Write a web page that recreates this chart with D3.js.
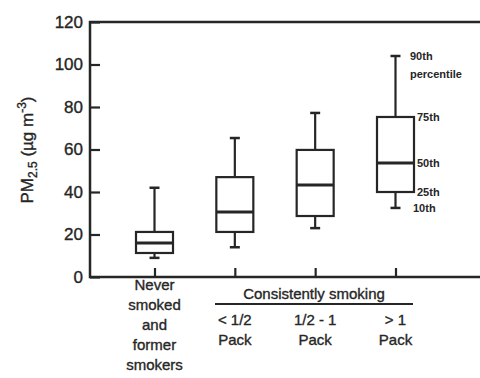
<!DOCTYPE html>
<html>
<head>
<meta charset="utf-8">
<script src="https://cdn.jsdelivr.net/npm/d3@7"></script>
<style>
  html, body { margin: 0; padding: 0; background: #fff; }
  svg { display: block; font-family: "Liberation Sans", Arial, Helvetica, sans-serif; }
  text { stroke: #262626; stroke-width: 0.35px; }
</style>
</head>
<body>
<svg id="chart" width="480" height="378"></svg>
<script>
// PM2.5 exposure by smoking status (box = 25th–75th, whiskers = 10th–90th percentile)
const categories = ["never", "lt_half", "half_one", "gt_one"];
const p10 = [9, 14, 23, 32.5];
const p25 = [11.3, 21.2, 28.7, 40];
const p50 = [16, 30.6, 43.3, 53.6];
const p75 = [21.2, 47, 59.8, 75.3];
const p90 = [42, 65.4, 77.2, 104];
const yTicks = [0, 20, 40, 60, 80, 100, 120];
const neverLabel = ["Never", "smoked", "and", "former", "smokers"];
const packLabels = [["< 1/2", "Pack"], ["1/2 - 1", "Pack"], ["> 1", "Pack"]];
const annotations = [
  { key: "p90", text: ["90th", "percentile"] },
  { key: "p75", text: ["75th"] },
  { key: "p50", text: ["50th"] },
  { key: "p25", text: ["25th"] },
  { key: "p10", text: ["10th"] }
];

const ink = "#262626";
const svg = d3.select("#chart");

const plot = { left: 90, right: 480, top: 22, bottom: 277 };
const y = d3.scaleLinear().domain([0, 120]).range([plot.bottom, plot.top]);
const x = d3.scalePoint().domain(categories).range([154.5, 395.5]);
const boxW = 37, capW = 10;

// frame: left, top and bottom lines
svg.append("path")
  .attr("d", `M${plot.right},${plot.top}H${plot.left}V${plot.bottom}H${plot.right}`)
  .attr("fill", "none").attr("stroke", ink).attr("stroke-width", 2.5);

// y axis with inward ticks
const yAxis = svg.append("g")
  .attr("transform", `translate(${plot.left},0)`)
  .call(d3.axisLeft(y).tickValues(yTicks).tickSizeInner(-10).tickSizeOuter(0).tickPadding(7));
yAxis.select(".domain").remove();
yAxis.selectAll(".tick line").attr("stroke", ink).attr("stroke-width", 2.2);
yAxis.selectAll(".tick text")
  .attr("fill", ink).attr("font-size", 17).attr("font-family", "Liberation Sans, Arial, sans-serif");

// bottom ticks at each category, pointing up
const xAxis = svg.append("g")
  .attr("transform", `translate(0,${plot.bottom})`)
  .call(d3.axisBottom(x).tickSizeInner(-9).tickSizeOuter(0).tickFormat(""));
xAxis.select(".domain").remove();
xAxis.selectAll(".tick line").attr("stroke", ink).attr("stroke-width", 2.2);

// boxes
const data = categories.map((c, i) => ({ c, p10: p10[i], p25: p25[i], p50: p50[i], p75: p75[i], p90: p90[i] }));
const g = svg.append("g").attr("stroke", ink).attr("fill", "none");
const box = g.selectAll("g.box").data(data).join("g").attr("class", "box");

box.append("line") // upper whisker
  .attr("x1", d => x(d.c)).attr("x2", d => x(d.c))
  .attr("y1", d => y(d.p75)).attr("y2", d => y(d.p90)).attr("stroke-width", 2.2);
box.append("line") // lower whisker
  .attr("x1", d => x(d.c)).attr("x2", d => x(d.c))
  .attr("y1", d => y(d.p25)).attr("y2", d => y(d.p10)).attr("stroke-width", 2.2);
box.append("line") // 90th cap
  .attr("x1", d => x(d.c) - capW / 2).attr("x2", d => x(d.c) + capW / 2)
  .attr("y1", d => y(d.p90)).attr("y2", d => y(d.p90)).attr("stroke-width", 2.5);
box.append("line") // 10th cap
  .attr("x1", d => x(d.c) - capW / 2).attr("x2", d => x(d.c) + capW / 2)
  .attr("y1", d => y(d.p10)).attr("y2", d => y(d.p10)).attr("stroke-width", 2.5);
box.append("rect")
  .attr("x", d => x(d.c) - boxW / 2).attr("width", boxW)
  .attr("y", d => y(d.p75)).attr("height", d => y(d.p25) - y(d.p75))
  .attr("fill", "#fff").attr("stroke-width", 2.2);
box.append("line") // median
  .attr("x1", d => x(d.c) - boxW / 2).attr("x2", d => x(d.c) + boxW / 2)
  .attr("y1", d => y(d.p50)).attr("y2", d => y(d.p50)).attr("stroke-width", 3);

// percentile annotations beside the last box
const last = data[data.length - 1];
const annX = x(last.c) + boxW / 2 + 3;
annotations.forEach(a => {
  const t = svg.append("text")
    .attr("fill", ink).attr("font-size", 11).attr("font-weight", "bold")
    .style("stroke-width", "0px")
    .attr("x", a.key === "p90" ? annX - 7 : a.key === "p10" ? annX - 4 : annX)
    .attr("y", y(last[a.key]) + 4);
  a.text.forEach((line, i) => {
    t.append("tspan").attr("x", t.attr("x")).attr("dy", i === 0 ? 0 : 18).text(line);
  });
});

// y axis title
const yt = svg.append("text")
  .attr("transform", `translate(33,150) rotate(-90)`)
  .attr("text-anchor", "middle").attr("fill", ink).attr("font-size", 17);
yt.append("tspan").text("PM");
yt.append("tspan").attr("font-size", 12).attr("dy", 4).text("2.5");
yt.append("tspan").attr("dy", -4).text(" (µg m");
yt.append("tspan").attr("font-size", 12).attr("dy", -7).text("-3");
yt.append("tspan").attr("dy", 7).text(")");

// category labels
const lab = svg.append("g").attr("fill", ink).attr("font-size", 15).attr("text-anchor", "middle");
const never = lab.append("text").attr("x", x(categories[0])).attr("y", 290);
neverLabel.forEach((s, i) => never.append("tspan").attr("x", x(categories[0])).attr("dy", i === 0 ? 0 : 20).text(s));

packLabels.forEach((lines, i) => {
  const cx = x(categories[i + 1]);
  const t = lab.append("text").attr("x", cx).attr("y", 325);
  lines.forEach((s, j) => t.append("tspan").attr("x", cx).attr("dy", j === 0 ? 0 : 20).text(s));
});

lab.append("text").attr("x", 314).attr("y", 299).text("Consistently smoking");
svg.append("line")
  .attr("x1", 215).attr("x2", 413).attr("y1", 304).attr("y2", 304)
  .attr("stroke", ink).attr("stroke-width", 2);
</script>
</body>
</html>
